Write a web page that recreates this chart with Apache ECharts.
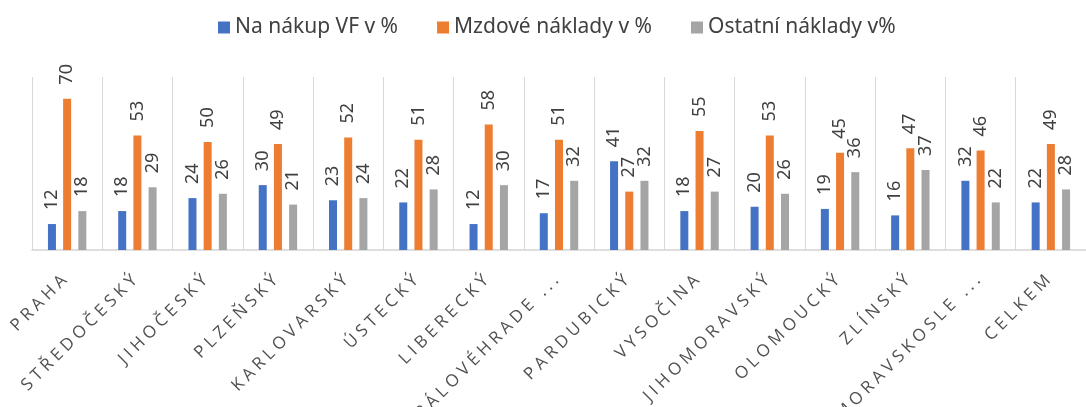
<!DOCTYPE html>
<html>
<head>
<meta charset="utf-8">
<title>Náklady podle krajů</title>
<script src="https://cdn.jsdelivr.net/npm/echarts@6/dist/echarts.min.js"></script>
<style>
  html, body { margin: 0; padding: 0; background: #fff; }
  #chart { width: 1086px; height: 407px; }
</style>
</head>
<body>
<div id="chart"></div>
<script>
// kategorie (kraje)
const regions = ['PRAHA', 'STŘEDOČESKÝ', 'JIHOČESKÝ', 'PLZEŇSKÝ', 'KARLOVARSKÝ', 'ÚSTECKÝ', 'LIBERECKÝ',
  'KRÁLOVÉHRADE ...', 'PARDUBICKÝ', 'VYSOČINA', 'JIHOMORAVSKÝ', 'OLOMOUCKÝ', 'ZLÍNSKÝ', 'MORAVSKOSLE ...', 'CELKEM'];

// hodnoty řad v %
const nakupVF = [12, 18, 24, 30, 23, 22, 12, 17, 41, 18, 20, 19, 16, 32, 22];
const mzdove = [70, 53, 50, 49, 52, 51, 58, 51, 27, 55, 53, 45, 47, 46, 49];
const ostatni = [18, 29, 26, 21, 24, 28, 30, 32, 32, 27, 26, 36, 37, 22, 28];

const seriesNames = ['Na nákup VF v %', 'Mzdové náklady v %', 'Ostatní náklady v%'];
const COLORS = ['#4472C4', '#ED7D31', '#A5A5A5'];

// popisky osy X mají v originále proložené písmo - canvas to umí přes letterSpacing
const origFillText = CanvasRenderingContext2D.prototype.fillText;
CanvasRenderingContext2D.prototype.fillText = function () {
  this.letterSpacing = this.font.indexOf('Open Sans') >= 0 ? '4.2px' : '0px';
  return origFillText.apply(this, arguments);
};

function makeSeries(name, data, color) {
  return {
    name: name,
    type: 'bar',
    data: data,
    barWidth: 8,
    barGap: '90%',
    itemStyle: { color: color },
    label: {
      show: true,
      position: 'top',
      distance: 14,
      rotate: 90,
      align: 'left',
      verticalAlign: 'middle',
      color: '#404040',
      fontFamily: 'Noto Sans',
      fontSize: 18
    }
  };
}

const chart = echarts.init(document.getElementById('chart'));

chart.setOption({
  animation: false,
  color: COLORS,
  legend: {
    data: seriesNames,
    left: 213,
    top: 12,
    itemWidth: 12,
    itemHeight: 12,
    itemGap: 39,
    icon: 'rect',
    textStyle: { color: '#404040', fontFamily: 'Noto Sans', fontSize: 21 }
  },
  grid: { left: 32, top: 77, width: 1065, bottom: 157 },
  xAxis: {
    type: 'category',
    data: regions,
    axisLine: { lineStyle: { color: '#d4d4d4', width: 1.5 } },
    axisTick: { show: false },
    splitLine: { show: true, lineStyle: { color: '#d9d9d9', width: 1 } },
    axisLabel: {
      interval: 0,
      rotate: 45,
      margin: 25,
      color: '#505050',
      fontFamily: 'Open Sans',
      fontSize: 17
    }
  },
  yAxis: {
    type: 'value',
    min: 0,
    max: 80,
    show: false,
    splitLine: { show: false }
  },
  series: [
    makeSeries(seriesNames[0], nakupVF, COLORS[0]),
    makeSeries(seriesNames[1], mzdove, COLORS[1]),
    makeSeries(seriesNames[2], ostatni, COLORS[2])
  ]
});

window.addEventListener('resize', () => chart.resize());
</script>
</body>
</html>
